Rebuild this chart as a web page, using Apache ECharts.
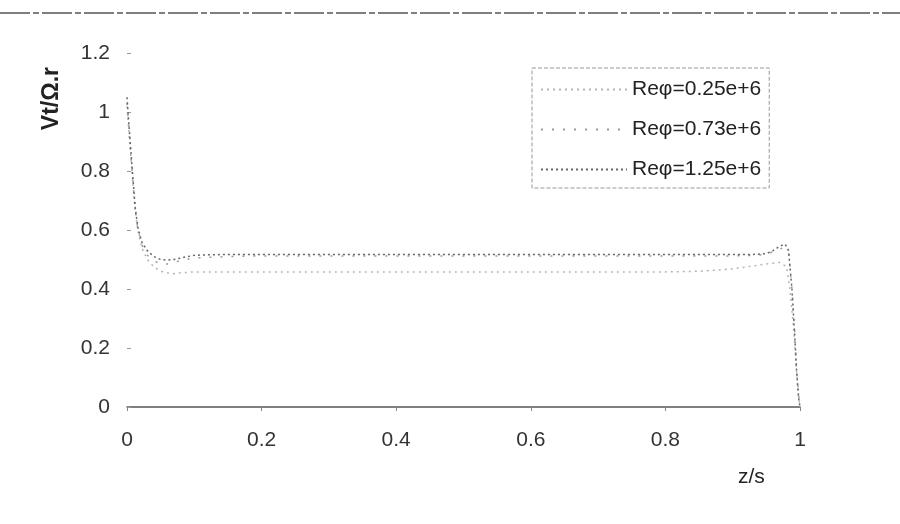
<!DOCTYPE html>
<html>
<head>
<meta charset="utf-8">
<script src="https://cdn.jsdelivr.net/npm/echarts@6/dist/echarts.min.js"></script>
<style>html,body{margin:0;padding:0;background:#fff;}#c{width:900px;height:524px;}</style>
</head>
<body>
<div id="c"></div>
<script>
var xTicks = [0, 0.2, 0.4, 0.6, 0.8, 1];
var yTicks = [0, 0.2, 0.4, 0.6, 0.8, 1, 1.2];
var seriesNames = ['Reφ=0.25e+6', 'Reφ=0.73e+6', 'Reφ=1.25e+6'];

var zLow = [0, 0.004, 0.008, 0.012, 0.016, 0.022, 0.03, 0.04, 0.05, 0.06, 0.07, 0.08, 0.1, 0.15, 0.2, 0.3, 0.4, 0.5, 0.6, 0.7, 0.8, 0.85, 0.9, 0.93, 0.95, 0.97, 0.98, 0.985, 0.99, 0.994, 0.997, 1.0];
var vLow = [1.02, 0.9, 0.78, 0.67, 0.6, 0.54, 0.5, 0.475, 0.46, 0.455, 0.452, 0.455, 0.458, 0.458, 0.458, 0.458, 0.458, 0.458, 0.458, 0.458, 0.458, 0.46, 0.468, 0.478, 0.485, 0.49, 0.475, 0.4, 0.28, 0.15, 0.05, 0];

var zMid = [0, 0.004, 0.008, 0.012, 0.016, 0.022, 0.03, 0.04, 0.05, 0.06, 0.07, 0.08, 0.1, 0.15, 0.2, 0.3, 0.4, 0.5, 0.6, 0.7, 0.8, 0.9, 0.94, 0.96, 0.975, 0.983, 0.988, 0.992, 0.995, 0.998, 1.0];
var vMid = [1.03, 0.91, 0.79, 0.675, 0.605, 0.55, 0.515, 0.495, 0.485, 0.485, 0.49, 0.497, 0.505, 0.51, 0.512, 0.512, 0.512, 0.512, 0.512, 0.512, 0.512, 0.512, 0.515, 0.525, 0.54, 0.52, 0.4, 0.26, 0.13, 0.04, 0];

var zHigh = [0, 0.004, 0.008, 0.012, 0.016, 0.022, 0.03, 0.04, 0.05, 0.06, 0.07, 0.08, 0.09, 0.1, 0.12, 0.15, 0.2, 0.3, 0.4, 0.5, 0.6, 0.7, 0.8, 0.9, 0.93, 0.95, 0.96, 0.97, 0.978, 0.983, 0.988, 0.992, 0.995, 0.998, 1.0];
var vHigh = [1.05, 0.92, 0.8, 0.68, 0.61, 0.56, 0.53, 0.51, 0.5, 0.498, 0.5, 0.505, 0.51, 0.514, 0.516, 0.517, 0.517, 0.517, 0.517, 0.517, 0.517, 0.517, 0.517, 0.517, 0.517, 0.52, 0.53, 0.545, 0.552, 0.53, 0.4, 0.25, 0.12, 0.03, 0];

function pairs(z, v) { return z.map(function (x, i) { return [x, v[i]]; }); }

var FONT = 'Liberation Sans, Arial, sans-serif';
var NOFILL = 'rgba(0,0,0,0)';
var chart = echarts.init(document.getElementById('c'));
chart.setOption({
  animation: false,
  backgroundColor: '#ffffff',
  grid: { left: 127, right: 100, top: 53, bottom: 117 },
  xAxis: {
    type: 'value', min: 0, max: 1, interval: 0.2,
    axisLine: { show: true, onZero: false, lineStyle: { color: '#555', width: 1.5 } },
    axisTick: { show: true, length: 4, inside: false, lineStyle: { color: '#888' } },
    axisLabel: { color: '#333', fontSize: 21, fontFamily: FONT, margin: 23,
      formatter: function (v) { return String(Math.round(v * 10) / 10); } },
    splitLine: { show: false }
  },
  yAxis: {
    type: 'value', min: 0, max: 1.2, interval: 0.2,
    axisLine: { show: false },
    axisTick: { show: true, length: 4, inside: true, lineStyle: { color: '#999' } },
    axisLabel: { color: '#333', fontSize: 21, fontFamily: FONT, margin: 17,
      formatter: function (v) { return String(Math.round(v * 10) / 10); } },
    splitLine: { show: false }
  },
  legend: {
    orient: 'vertical', left: 532, top: 68,
    padding: [11, 8, 8, 8], itemGap: 19,
    itemWidth: 86, itemHeight: 14,
    borderColor: '#999', borderWidth: 1, borderType: 'dashed',
    textStyle: { color: '#222', fontSize: 21, fontFamily: FONT },
    data: seriesNames
  },
  series: [
    { name: seriesNames[0], type: 'line', symbol: 'none', data: pairs(zLow, vLow),
      itemStyle: { color: NOFILL },
      lineStyle: { color: '#b5b5b5', width: 1.5, type: [2, 4] } },
    { name: seriesNames[1], type: 'line', symbol: 'none', data: pairs(zMid, vMid),
      itemStyle: { color: NOFILL },
      lineStyle: { color: '#9a9a9a', width: 1.5, type: [2, 9] } },
    { name: seriesNames[2], type: 'line', symbol: 'none', data: pairs(zHigh, vHigh),
      itemStyle: { color: NOFILL },
      lineStyle: { color: '#666', width: 1.5, type: [2, 3] } }
  ],
  graphic: [
    { type: 'line', shape: { x1: 0, y1: 13, x2: 900, y2: 13 }, style: { stroke: '#555', lineWidth: 1.3, lineDash: [30, 3, 6, 3] }, silent: true },
    { type: 'text', left: 40, top: 67, rotation: Math.PI / 2, style: { text: 'Vt/Ω.r', fill: '#222', font: 'bold 23px ' + FONT } },
    { type: 'text', left: 738, top: 467, style: { text: 'z/s', fill: '#222', font: '21px ' + FONT } }
  ]
});
</script>
</body>
</html>
